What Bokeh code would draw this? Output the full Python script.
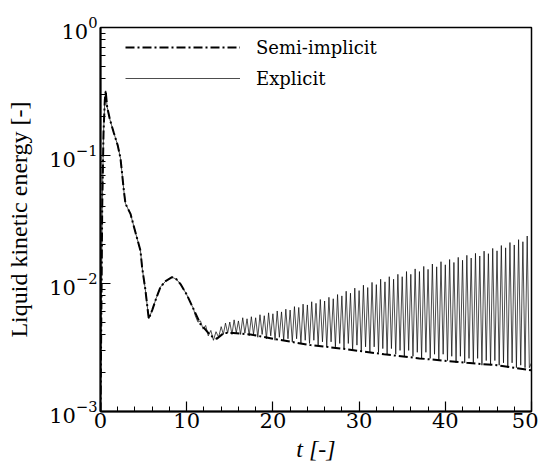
from bokeh.plotting import figure
from bokeh.models import Legend, LegendItem, FixedTicker, LogTickFormatter
from bokeh.embed import file_html
from bokeh.resources import INLINE

# ---------------- data ----------------
semi_t = [0.0, 0.1, 0.2, 0.35, 0.5, 0.6, 0.77, 1.1, 1.55, 2.0, 2.32, 2.71, 2.9,
          3.48, 4.06, 4.64, 4.83, 5.2, 5.6, 6.0, 6.5, 6.96, 7.6, 8.3, 8.8, 9.28,
          10.0, 10.8, 11.6, 12.0, 12.8, 13.5, 14.3, 15.4, 17.4, 20.0, 24.4, 28.0,
          32.9, 37.0, 42.5, 46.0, 50.0]
semi_e = [0.001, 0.006, 0.04, 0.15, 0.27, 0.32, 0.24, 0.19, 0.15, 0.12, 0.095,
          0.053, 0.042, 0.035, 0.025, 0.018, 0.0133, 0.009, 0.0053, 0.0062,
          0.0078, 0.0094, 0.0105, 0.0112, 0.0108, 0.0099, 0.0082, 0.0063, 0.0048,
          0.0045, 0.0039, 0.0037, 0.0041, 0.0041, 0.0040, 0.0037, 0.0033, 0.0031,
          0.0028, 0.0026, 0.0024, 0.0023, 0.0021]

expl_early_t = [0.0, 0.1, 0.2, 0.35, 0.5, 0.6, 0.77, 1.1, 1.55, 2.0, 2.32, 2.71,
                2.9, 3.48, 4.06, 4.64, 4.83, 5.2, 5.6, 6.0, 6.5, 6.96, 7.6, 8.3,
                8.8, 9.28, 10.0, 10.8, 11.0, 11.3, 11.6, 11.9, 12.2, 12.5, 12.8,
                13.1, 13.4, 13.7]
expl_early_e = [0.001, 0.006, 0.04, 0.15, 0.27, 0.32, 0.24, 0.19, 0.15, 0.12,
                0.095, 0.053, 0.042, 0.035, 0.025, 0.018, 0.0133, 0.009, 0.0053,
                0.0062, 0.0078, 0.0094, 0.0105, 0.0112, 0.0108, 0.0099, 0.0082,
                0.0063, 0.0056, 0.0050, 0.0051, 0.0044, 0.0047, 0.0039, 0.0043,
                0.0036, 0.0042, 0.0038]

# oscillation of the explicit run: peak times and values
expl_peak_t = [14.0, 14.5, 15.0, 15.5, 16.0, 16.5, 17.0, 17.5, 18.0, 18.5, 19.0,
               19.5, 20.0, 20.5, 21.0, 21.5, 22.0, 22.5, 23.0, 23.5, 24.0, 24.5,
               25.0, 25.5, 26.0, 26.5, 27.0, 27.5, 28.0, 28.5, 29.0, 29.5, 30.0,
               30.5, 31.0, 31.5, 32.0, 32.5, 33.0, 33.5, 34.0, 34.5, 35.0, 35.5,
               36.0, 36.5, 37.0, 37.5, 38.0, 38.5, 39.0, 39.5, 40.0, 40.5, 41.0,
               41.5, 42.0, 42.5, 43.0, 43.5, 44.0, 44.5, 45.0, 45.5, 46.0, 46.5,
               47.0, 47.5, 48.0, 48.5, 49.0, 49.5]
expl_peak_e = [0.0046, 0.0049, 0.0050, 0.0052, 0.0051, 0.0054, 0.0053, 0.0055,
               0.0054, 0.0057, 0.0056, 0.0059, 0.0058, 0.0061, 0.0060, 0.0063,
               0.0062, 0.0066, 0.0065, 0.0069, 0.0068, 0.0072, 0.0070, 0.0075,
               0.0073, 0.0078, 0.0076, 0.0082, 0.0080, 0.0087, 0.0084, 0.0092,
               0.0088, 0.0097, 0.0093, 0.0102, 0.0098, 0.0108, 0.0103, 0.0113,
               0.0108, 0.0118, 0.0113, 0.0124, 0.0118, 0.0130, 0.0124, 0.0136,
               0.0129, 0.0142, 0.0135, 0.0148, 0.0140, 0.0154, 0.0146, 0.0160,
               0.0152, 0.0166, 0.0158, 0.0172, 0.0164, 0.0179, 0.0171, 0.0188,
               0.0180, 0.0198, 0.0190, 0.0209, 0.0200, 0.0220, 0.0212, 0.0235]
# trough times and values
expl_trough_t = [14.25, 14.75, 15.25, 15.75, 16.25, 16.75, 17.25, 17.75, 18.25,
                 18.75, 19.25, 19.75, 20.25, 20.75, 21.25, 21.75, 22.25, 22.75,
                 23.25, 23.75, 24.25, 24.75, 25.25, 25.75, 26.25, 26.75, 27.25,
                 27.75, 28.25, 28.75, 29.25, 29.75, 30.25, 30.75, 31.25, 31.75,
                 32.25, 32.75, 33.25, 33.75, 34.25, 34.75, 35.25, 35.75, 36.25,
                 36.75, 37.25, 37.75, 38.25, 38.75, 39.25, 39.75, 40.25, 40.75,
                 41.25, 41.75, 42.25, 42.75, 43.25, 43.75, 44.25, 44.75, 45.25,
                 45.75, 46.25, 46.75, 47.25, 47.75, 48.25, 48.75, 49.25, 49.75]
expl_trough_e = [0.0040, 0.0041, 0.0040, 0.0041, 0.0040, 0.0041, 0.0039, 0.0040,
                 0.0038, 0.0040, 0.0037, 0.0039, 0.0036, 0.0038, 0.0036, 0.0037,
                 0.0035, 0.0037, 0.0034, 0.0036, 0.0034, 0.0036, 0.0033, 0.0035,
                 0.0032, 0.0035, 0.0032, 0.0034, 0.0031, 0.0034, 0.0030, 0.0033,
                 0.0030, 0.0032, 0.0029, 0.0032, 0.0029, 0.0031, 0.0028, 0.0031,
                 0.0028, 0.0030, 0.0027, 0.0030, 0.0027, 0.0029, 0.0026, 0.0029,
                 0.0026, 0.0028, 0.0025, 0.0028, 0.0025, 0.0027, 0.0024, 0.0027,
                 0.0024, 0.0026, 0.0024, 0.0026, 0.0023, 0.0025, 0.0023, 0.0025,
                 0.0023, 0.0024, 0.0022, 0.0024, 0.0022, 0.0023, 0.0022, 0.0022]
expl_end_t = [50.0]
expl_end_e = [0.0024]

x_major = [0, 10, 20, 30, 40, 50]
x_minor = [2, 4, 6, 8, 12, 14, 16, 18, 22, 24, 26, 28, 32, 34, 36, 38, 42, 44, 46, 48]
y_major = [1e-3, 1e-2, 1e-1, 1e0]
y_minor = [m * d for d in (1e-3, 1e-2, 1e-1) for m in (2, 3, 4, 5, 6, 7, 8, 9)]

series_labels = ["Semi-implicit", "Explicit"]
x_label = "t [-]"
y_label = "Liquid kinetic energy [-]"

# assemble explicit series (early part + alternating peaks/troughs)
expl_t = list(expl_early_t)
expl_e = list(expl_early_e)
for tp, ep, tt, et in zip(expl_peak_t, expl_peak_e, expl_trough_t, expl_trough_e):
    expl_t += [tp, tt]
    expl_e += [ep, et]
expl_t += expl_end_t
expl_e += expl_end_e

FONT = "Liberation Serif"
FONT_TXT = "DejaVu Serif"

p = figure(width=538, height=464, x_range=(0, 50), y_range=(1e-3, 1.0),
           y_axis_type="log", output_backend="svg", toolbar_location=None,
           min_border_left=100, min_border_right=7, min_border_top=27,
           min_border_bottom=38)
p.grid.visible = False
p.background_fill_color = "white"
p.border_fill_color = "white"
p.outline_line_color = "black"
p.outline_line_width = 1.5

r_expl = p.line(expl_t, expl_e, line_color="black", line_width=0.7)
r_semi = p.line(semi_t, semi_e, line_color="black", line_width=2,
                line_dash="9 3 2 3")

for ax in (p.xaxis[0], p.yaxis[0]):
    ax.axis_line_width = 2
    ax.axis_line_color = "black"
    ax.major_tick_in = 10
    ax.major_tick_out = 0
    ax.minor_tick_in = 5
    ax.minor_tick_out = 0
    ax.major_tick_line_width = 1.2
    ax.minor_tick_line_width = 1
    ax.major_label_text_font = FONT_TXT
    ax.major_label_text_font_size = "21px"
    ax.major_label_text_font_style = "normal"
    ax.major_label_text_color = "black"
    ax.axis_label_text_font = FONT
    ax.axis_label_text_color = "black"
    ax.axis_label_text_font_size = "24px"

p.xaxis[0].ticker = FixedTicker(ticks=x_major, minor_ticks=x_minor)
p.xaxis[0].major_label_standoff = 1
p.xaxis[0].axis_label = x_label
p.xaxis[0].axis_label_text_font_style = "italic"
p.xaxis[0].axis_label_standoff = 5
p.yaxis[0].ticker = FixedTicker(ticks=y_major, minor_ticks=y_minor)
p.yaxis[0].formatter = LogTickFormatter()
p.yaxis[0].major_label_standoff = 3
p.yaxis[0].axis_label = y_label
p.yaxis[0].axis_label_text_font_style = "normal"
p.yaxis[0].axis_label_standoff = 14

legend = Legend(items=[LegendItem(label=series_labels[0], renderers=[r_semi]),
                       LegendItem(label=series_labels[1], renderers=[r_expl])],
                location=(25, 321), orientation="vertical",
                glyph_width=115, glyph_height=24, label_height=24,
                label_standoff=16, spacing=7, padding=0, margin=0,
                border_line_color=None, background_fill_alpha=0,
                label_text_font=FONT_TXT, label_text_font_style="normal",
                label_text_font_size="18px", label_text_color="black")
p.add_layout(legend)

open("out.html", "w").write(file_html(p, INLINE))
